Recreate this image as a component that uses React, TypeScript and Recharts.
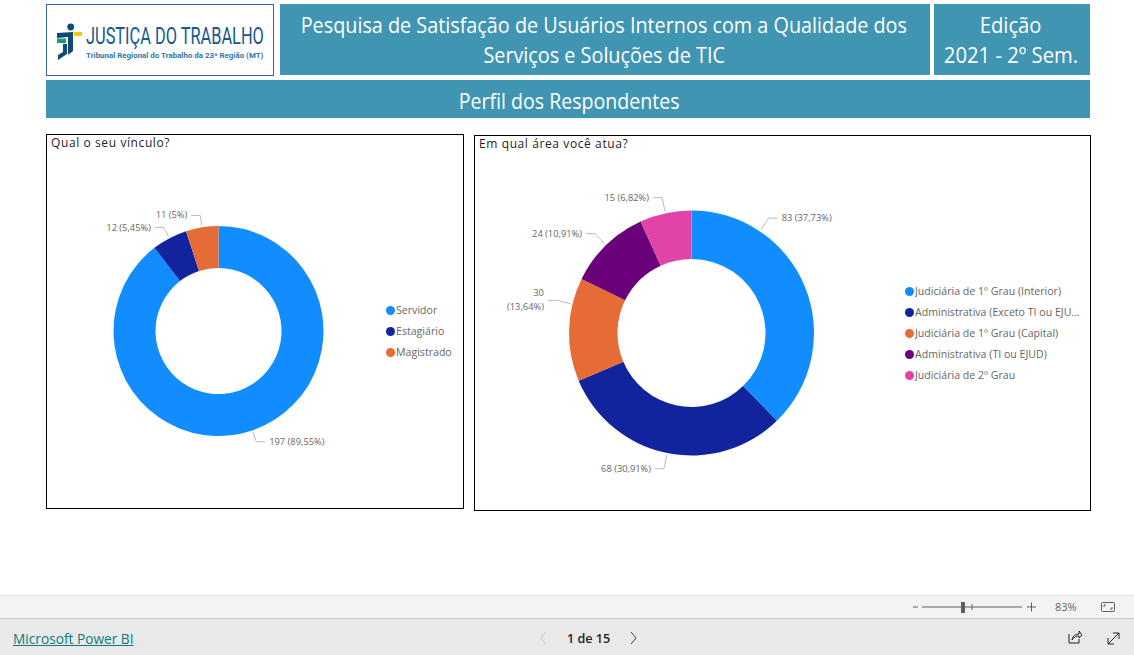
import { PieChart, Pie, Cell, Legend } from "recharts";

const vinculoNames = ["Servidor", "Estagiário", "Magistrado"];
const vinculoValues = [197, 12, 11];

const areaNames = [
  "Judiciária de 1º Grau (Interior)",
  "Administrativa (Exceto TI ou EJUD)",
  "Judiciária de 1º Grau (Capital)",
  "Administrativa (TI ou EJUD)",
  "Judiciária de 2º Grau",
];
const areaValues = [83, 68, 30, 24, 15];

const COLORS = ["#118DFF", "#12239E", "#E66C37", "#6B007B", "#E044A7"];
const TEAL = "#4095B2";
const FONT = "'Open Sans', 'Noto Sans', sans-serif";

const vinculoData = vinculoNames.map((name, i) => ({ name, value: vinculoValues[i] }));
const areaData = areaNames.map((name, i) => ({ name, value: areaValues[i] }));

const RAD = Math.PI / 180;

function pct(value: number, total: number) {
  const p = parseFloat(((value / total) * 100).toFixed(2));
  return `${value} (${String(p).replace(".", ",")}%)`;
}

/* power bi moves some leader lines off the slice middle, values are degrees */
function makeLabel(total: number, elbow: number, shift: Record<string, number>, wrapped: string[]) {
  return function SliceLabel(props: any) {
    const { cx, cy, midAngle, outerRadius, value, name } = props;
    const a = (midAngle + (shift[name] || 0)) * RAD;
    const sx = cx + (outerRadius + 2) * Math.cos(a);
    const sy = cy - (outerRadius + 2) * Math.sin(a);
    const ex = cx + (outerRadius + elbow) * Math.cos(a);
    const ey = cy - (outerRadius + elbow) * Math.sin(a);
    const right = Math.cos(a) > 0;
    const hx = ex + (right ? 9 : -9);
    const tx = hx + (right ? 4 : -4);
    const text = pct(value, total);
    const style = { fontFamily: FONT, fontSize: 9.3, fill: "#666" };
    const anchor = right ? "start" : "end";
    return (
      <g>
        <polyline points={`${sx},${sy} ${ex},${ey} ${hx},${ey}`} fill="none" stroke="#bbb" strokeWidth={1} />
        {wrapped.includes(name) ? (
          <text x={tx} y={ey + 3} textAnchor={anchor} style={style}>
            <tspan x={tx} dy={-7}>{text.split(" ")[0]}</tspan>
            <tspan x={tx} dy={14}>{text.split(" ")[1]}</tspan>
          </text>
        ) : (
          <text x={tx} y={ey + 3} textAnchor={anchor} style={style}>{text}</text>
        )}
      </g>
    );
  };
}

function DotLegend({ payload, width }: any) {
  return (
    <div style={{ width, fontFamily: FONT, fontSize: 10.6, color: "#666" }}>
      {(payload || []).map((item: any) => (
        <div key={item.value} style={{ height: 21, lineHeight: "21px", display: "flex", alignItems: "center" }}>
          <span style={{ width: 9, height: 9, borderRadius: "50%", background: item.color, flexShrink: 0, marginRight: 1 }} />
          <span style={{ overflow: "hidden", whiteSpace: "nowrap", textOverflow: "ellipsis" }}>{item.value}</span>
        </div>
      ))}
    </div>
  );
}

function Banner({ left, top, width, height, squeeze, dx = 0, dy = 0, lines }: any) {
  return (
    <div
      style={{
        position: "absolute", left, top, width, height, background: TEAL, color: "#fff",
        fontFamily: FONT, fontSize: 22, lineHeight: "30px", overflow: "hidden",
        display: "flex", flexDirection: "column", justifyContent: "center", alignItems: "center",
      }}
    >
      {lines.map((l: string) => (
        <div key={l} style={{ whiteSpace: "nowrap", flexShrink: 0, transform: `translate(${dx}px, ${dy}px) scaleX(${squeeze})` }}>{l}</div>
      ))}
    </div>
  );
}

function Logo() {
  return (
    <svg style={{ position: "absolute", left: 46, top: 4 }} width={228} height={72}>
      <rect x={0.5} y={0.5} width={227} height={71} fill="#fff" stroke="#2F6496" />
      <circle cx={24.7} cy={23} r={3.4} fill="#0F4C75" />
      <rect x={28} y={28} width={8} height={4} fill="#F5C518" />
      <path d="M11 29 L27 28 L27 47 L22 51 L22 33 L11 34 Z" fill="#0F4C75" />
      <rect x={11} y={34.5} width={9} height={4.5} fill="#1E9C6B" />
      <path d="M17 40 L21 40 L21 50 L12 56 L12 51 L17 48 Z" fill="#0F4C75" />
      <g transform="translate(40 40) scale(0.72 1)">
        <text x={0} y={0} textLength={247} lengthAdjust="spacingAndGlyphs"
          style={{ fontFamily: "Roboto, sans-serif", fontSize: 23, fill: "#155A8A" }}>JUSTIÇA DO TRABALHO</text>
      </g>
      <g transform="translate(40 54) scale(0.98 1)">
        <text x={0} y={0} textLength={181} lengthAdjust="spacingAndGlyphs"
          style={{ fontFamily: "Roboto, sans-serif", fontSize: 7.5, fontWeight: 700, fill: "#2C77A8" }}>Tribunal Regional do Trabalho da 23ª Região (MT)</text>
      </g>
    </svg>
  );
}

function Footer() {
  const grey = "#605E5C";
  return (
    <>
      <div style={{ position: "absolute", left: 0, top: 595, width: 1134, height: 22, background: "#F3F3F3", borderTop: "1px solid #E4E4E4", borderBottom: "1px solid #C8C8C8" }} />
      <div style={{ position: "absolute", left: 0, top: 619, width: 1134, height: 36, background: "#E9E9E9" }} />
      <a style={{ position: "absolute", left: 13, top: 629, fontFamily: FONT, fontSize: 13.7, color: "#117A7A", textDecoration: "underline" }}>Microsoft Power BI</a>
      <div style={{ position: "absolute", left: 567, top: 630, fontFamily: FONT, fontSize: 12.6, fontWeight: 600, color: "#252423" }}>1 de 15</div>
      <div style={{ position: "absolute", left: 1055, top: 599, fontFamily: FONT, fontSize: 11, color: "#666" }}>83%</div>
      <svg style={{ position: "absolute", left: 0, top: 590 }} width={1134} height={65}>
        <path d="M546 42 L541 48 L546 54" fill="none" stroke="#C4C4C4" />
        <path d="M631 42 L636 48 L631 54" fill="none" stroke="#444" />
        <path d="M913 17 H918 M922 17 H1022 M1027 17 H1036 M1031.5 12.5 V21.5" stroke={grey} fill="none" />
        <rect x={961} y={12} width={4} height={11} fill={grey} />
        <path d="M972 14 V20" stroke={grey} />
        <rect x={1101.5} y={12.5} width={13} height={9} rx={1} fill="none" stroke={grey} />
        <path d="M1104 17 V15 H1106 M1112 17 V19 H1110" fill="none" stroke={grey} />
        <path d="M1069 44 V53 H1079 V49 M1072 50 C1073 45 1076 44 1079 44 V41 L1082 45 L1079 48 V46 C1076 46 1074 47 1072 50" fill="none" stroke="#252423" />
        <path d="M1108 54 L1119 43 M1113 43 H1119 V49 M1108 48 V54 H1114" fill="none" stroke="#252423" />
      </svg>
    </>
  );
}

const cardStyle = { position: "absolute", border: "1px solid #000", boxSizing: "border-box", background: "#fff" } as const;
const cardTitle = { position: "absolute", left: 4, top: -1, fontFamily: FONT, fontSize: 12, letterSpacing: 0.6, color: "#252423" } as const;

export default function App() {
  const vinculoLabel = makeLabel(220, 12, {}, []);
  const areaLabel = makeLabel(220, 16, {
    "Judiciária de 1º Grau (Interior)": 34,
    "Judiciária de 1º Grau (Capital)": -12,
  }, ["Judiciária de 1º Grau (Capital)"]);

  return (
    <div style={{ position: "absolute", left: 0, top: 0, width: 1134, height: 655, background: "#fff", overflow: "hidden" }}>
      <Logo />
      <Banner left={280} top={4} width={650} height={71} squeeze={0.9} dx={-1} dy={-1} lines={["Pesquisa de Satisfação de Usuários Internos com a Qualidade dos", "Serviços e Soluções de TIC"]} />
      <Banner left={934} top={4} width={156} height={71} squeeze={0.92} dx={-1} dy={-1} lines={["Edição", "2021 - 2º Sem."]} />
      <Banner left={46} top={80} width={1044} height={38} squeeze={0.89} dx={1} dy={1} lines={["Perfil dos Respondentes"]} />

      <div style={{ ...cardStyle, left: 46, top: 134, width: 418, height: 375 }}>
        <div style={cardTitle}>Qual o seu vínculo?</div>
        <PieChart width={416} height={373} margin={{ top: 0, right: 0, bottom: 0, left: 0 }}>
          <Pie data={vinculoData} dataKey="value" nameKey="name" cx={171.5} cy={196} innerRadius={63} outerRadius={105}
            startAngle={90} endAngle={-270} stroke="none" isAnimationActive={false} labelLine={false} label={vinculoLabel}>
            {vinculoData.map((d, i) => <Cell key={d.name} fill={COLORS[i]} />)}
          </Pie>
          <Legend content={<DotLegend width={75} />} itemSorter={null} layout="vertical" wrapperStyle={{ left: 339, top: 165, width: 75 }} />
        </PieChart>
      </div>

      <div style={{ ...cardStyle, left: 474, top: 135, width: 617, height: 376 }}>
        <div style={cardTitle}>Em qual área você atua?</div>
        <PieChart width={615} height={374} margin={{ top: 0, right: 0, bottom: 0, left: 0 }}>
          <Pie data={areaData} dataKey="value" nameKey="name" cx={216.5} cy={197} innerRadius={74} outerRadius={122.5}
            startAngle={90} endAngle={-270} stroke="none" isAnimationActive={false} labelLine={false} label={areaLabel}>
            {areaData.map((d, i) => <Cell key={d.name} fill={COLORS[i]} />)}
          </Pie>
          <Legend content={<DotLegend width={176} />} itemSorter={null} layout="vertical" wrapperStyle={{ left: 430, top: 145, width: 176 }} />
        </PieChart>
      </div>

      <Footer />
    </div>
  );
}
